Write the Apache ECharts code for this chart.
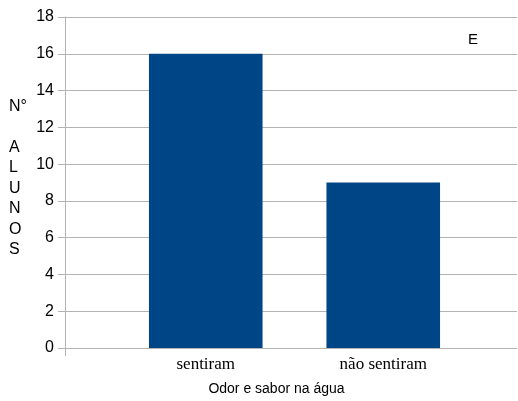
<!DOCTYPE html>
<html>
<head>
<meta charset="utf-8">
<script src="https://cdn.jsdelivr.net/npm/echarts@6/dist/echarts.min.js"></script>
<style>
  html, body { margin: 0; padding: 0; background: #fff; }
  #chart { width: 518px; height: 401px; }
</style>
</head>
<body>
<div id="chart"></div>
<script>
// Survey: students who noticed odor/taste in the water
const categories = ['sentiram', 'não sentiram'];
const alunos = [16, 9];
const seriesName = 'E';
const yMin = 0, yMax = 18, yStep = 2;

const chart = echarts.init(document.getElementById('chart'), null, { renderer: 'canvas' });

const gridColor = '#b3b3b3';
const sans = '"Liberation Sans", Arial, sans-serif';
const serif = '"Liberation Serif", "Times New Roman", serif';

chart.setOption({
  animation: false,
  title: {
    text: seriesName,
    left: 463, top: 27,
    textStyle: { fontFamily: sans, fontSize: 15, fontWeight: 'normal', color: '#000' }
  },
  grid: [
    // full-width frame: value axis and horizontal gridlines
    { left: 65, right: 1, top: 17, bottom: 53 },
    // inner area holding the two category bars
    { left: 117, right: 46, top: 17, bottom: 53 }
  ],
  xAxis: [
    {
      // only a short tick that continues the value axis below zero
      gridIndex: 0, type: 'value', min: 0, max: 1,
      axisLine: { show: false }, splitLine: { show: false }, axisLabel: { show: false },
      axisTick: { show: true, customValues: [0], length: 8, lineStyle: { color: gridColor } },
      name: 'Odor e sabor na água', nameLocation: 'middle', nameGap: 34,
      nameTextStyle: { fontFamily: sans, fontSize: 14, color: '#000', padding: [0, 0, 0, -29] }
    },
    {
      gridIndex: 1, type: 'category', data: categories,
      axisLine: { show: false }, axisTick: { show: false },
      axisLabel: { fontFamily: serif, fontSize: 17, color: '#000', margin: 8 }
    }
  ],
  yAxis: [
    {
      gridIndex: 0, type: 'value', min: yMin, max: yMax, interval: yStep,
      axisLine: { show: true, lineStyle: { color: gridColor, width: 1 } },
      axisTick: { show: true, length: 7, lineStyle: { color: gridColor } },
      axisLabel: { fontFamily: sans, fontSize: 16, color: '#000', margin: 11 },
      splitLine: { show: true, lineStyle: { color: gridColor, width: 1 } }
    },
    {
      gridIndex: 1, type: 'value', min: yMin, max: yMax, interval: yStep,
      show: false
    }
  ],
  graphic: [
    {
      type: 'text', left: 9, top: 96,
      style: {
        text: 'N°\n \nA\nL\nU\nN\nO\nS',
        fontFamily: sans, fontSize: 16, lineHeight: 20.5,
        fill: '#000', align: 'center'
      }
    }
  ],
  series: [
    {
      name: seriesName, type: 'bar', xAxisIndex: 1, yAxisIndex: 1,
      data: alunos, barWidth: '64%',
      itemStyle: { color: '#004586' }
    }
  ]
});
</script>
</body>
</html>
